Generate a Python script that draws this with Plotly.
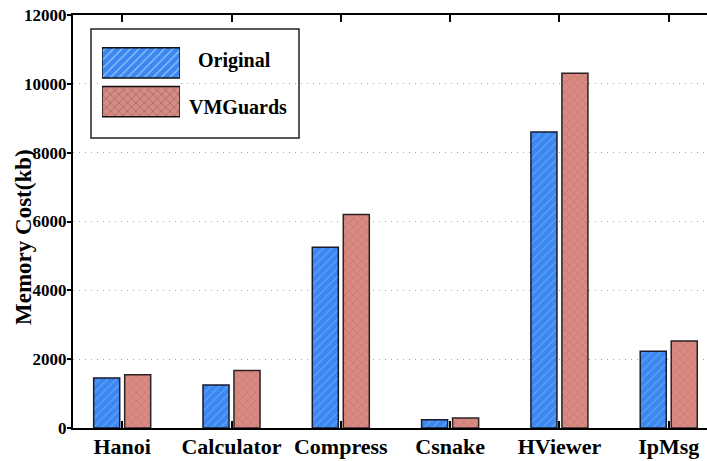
import plotly.graph_objects as go

categories = ["Hanoi", "Calculator", "Compress", "Csnake", "HViewer", "IpMsg"]
original = [1450, 1250, 5250, 240, 8600, 2230]
vmguards = [1550, 1670, 6200, 290, 10310, 2530]
series_names = ["Original", "VMGuards"]
y_ticks = [0, 2000, 4000, 6000, 8000, 10000, 12000]
y_tick_labels = ["0", "2000", "4000", "6000", "8000", "10000", "12000"]
y_title = "Memory Cost(kb)"

BLUE = "#3b88f2"
BLUE_LINE = "#8dbcf7"
RED = "#d98a82"
RED_LINE = "#b0605a"
FONT = "Liberation Serif"

fig = go.Figure()
fig.add_trace(go.Bar(
    x=categories, y=original, name=series_names[0],
    marker=dict(color=BLUE, line=dict(color="#1a1a2a", width=1.5),
                pattern=dict(shape="/", fgcolor=BLUE_LINE, bgcolor=BLUE, size=6, solidity=0.2)),
    showlegend=False,
))
fig.add_trace(go.Bar(
    x=categories, y=vmguards, name=series_names[1],
    marker=dict(color=RED, line=dict(color="#2a2222", width=1.5),
                pattern=dict(shape="x", fgcolor=RED_LINE, bgcolor=RED, size=6, solidity=0.22)),
    showlegend=False,
))

# custom legend swatches on an inset axis
fig.add_trace(go.Bar(
    y=series_names, x=[1, 1], orientation="h", width=0.78,
    xaxis="x2", yaxis="y2", showlegend=False, hoverinfo="skip",
    marker=dict(color=[BLUE, RED], line=dict(color="#111111", width=1.5),
                pattern=dict(shape=["/", "x"], fgcolor=[BLUE_LINE, RED_LINE],
                             bgcolor=[BLUE, RED], size=[6, 6], solidity=[0.2, 0.22])),
))

fig.update_layout(
    width=707, height=461,
    margin=dict(l=73, r=0, t=15, b=33),
    paper_bgcolor="white", plot_bgcolor="white",
    barmode="group", bargap=0.433, bargroupgap=0.16,
    font=dict(family=FONT, color="black"),
    xaxis=dict(
        range=[-0.45, 5.35], showgrid=False, automargin=False,
        showline=True, linecolor="black", linewidth=2, mirror="ticks",
        ticks="inside", ticklen=7, tickwidth=1.5, tickcolor="black",
        ticklabelstandoff=-2,
        tickfont=dict(family=FONT, size=22, weight="bold", color="black"),
        zeroline=False,
    ),
    yaxis=dict(
        range=[0, 12000], tickvals=y_ticks, ticktext=y_tick_labels, automargin=False,
        showgrid=True, gridcolor="#a8a8a8", griddash="1px,5px", gridwidth=1,
        showline=True, linecolor="black", linewidth=2,
        ticks="outside", ticklen=4, tickwidth=1.5, tickcolor="black",
        ticklabelstandoff=-3,
        tickfont=dict(family=FONT, size=17, weight="bold", color="black"),
        zeroline=False,
    ),
    xaxis2=dict(domain=[0.0457, 0.1688], range=[0, 1], anchor="y2",
                visible=False, fixedrange=True),
    yaxis2=dict(domain=[0.7433, 0.931], range=[-0.5, 1.5], anchor="x2",
                visible=False, fixedrange=True, autorange=False,
                categoryorder="array", categoryarray=["VMGuards", "Original"]),
    shapes=[dict(type="rect", xref="paper", yref="paper",
                 x0=0.0284, x1=0.3565, y0=0.702, y1=0.966,
                 line=dict(color="#222222", width=1.5), fillcolor="rgba(0,0,0,0)",
                 layer="above")],
    annotations=[
        dict(text="Original", xref="paper", yref="paper", x=0.255, y=0.889,
             showarrow=False, xanchor="center", yanchor="middle",
             font=dict(family=FONT, size=20, weight="bold", color="black")),
        dict(text="VMGuards", xref="paper", yref="paper", x=0.260, y=0.777,
             showarrow=False, xanchor="center", yanchor="middle",
             font=dict(family=FONT, size=20, weight="bold", color="black")),
        dict(text=y_title, xref="paper", yref="paper", x=-0.0773, y=0.4625,
             textangle=-90, showarrow=False, xanchor="center", yanchor="middle",
             font=dict(family=FONT, size=23, weight="bold", color="black")),
    ],
)

fig.write_html("out.html")
